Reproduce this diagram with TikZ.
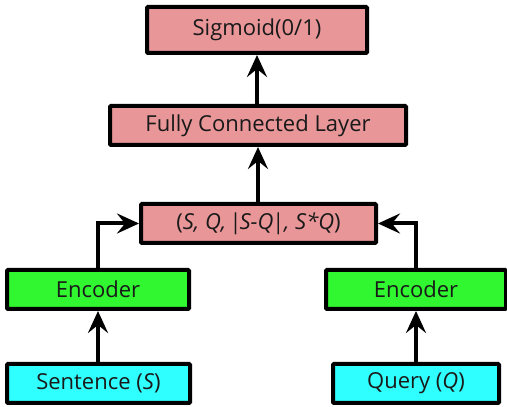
\documentclass[tikz,border=0pt]{standalone}
\usepackage{fontspec}
\setmainfont{Open Sans}
\usetikzlibrary{arrows.meta}
\definecolor{pinkbox}{RGB}{232,150,152}
\definecolor{greenbox}{RGB}{48,247,48}
\definecolor{cyanbox}{RGB}{48,255,255}
\begin{document}
\begin{tikzpicture}[x=1pt,y=1pt,
  box/.style={draw=black, line width=4pt, rounded corners=1pt, inner sep=0pt,
    minimum height=39pt, font=\fontsize{22}{24}\selectfont, text=black!90},
  arr/.style={line width=4pt, -{Stealth[length=22pt,width=20pt,inset=8pt]}}]
\useasboundingbox (0,0) rectangle (507,407);
\node[box, fill=pinkbox, minimum width=220pt, minimum height=46pt] (sig) at (257,377) {Sigmoid(0/1)};
\node[box, fill=pinkbox, minimum width=296pt] (fc) at (258,281.5) {Fully Connected Layer};
\node[box, fill=pinkbox, minimum width=235pt] (cat) at (258.5,183.5) {(\textit{S, Q, \kern-3pt|\kern-1.5pt S-Q\kern-1.5pt|, S*Q})};
\node[box, fill=greenbox, minimum width=182pt] (encl) at (98,117.5) {Encoder};
\node[box, fill=greenbox, minimum width=180pt] (encr) at (416,117.5) {Encoder};
\node[box, fill=cyanbox, minimum width=183pt] (sent) at (98.5,23.5) {Sentence (\textit{S})};
\node[box, fill=cyanbox, minimum width=166pt] (query) at (416,23.5) {Query (\textit{Q})};
\draw[arr] (fc.north -| sig.south) -- (sig.south);
\draw[arr] (cat.north -| fc.south) -- (fc.south);
\draw[arr] (encl.north) |- (cat.west);
\draw[arr] (encr.north) |- (cat.east);
\draw[arr] (sent.north -| encl.south) -- (encl.south);
\draw[arr] (query.north) -- (encr.south);
\end{tikzpicture}
\end{document}
